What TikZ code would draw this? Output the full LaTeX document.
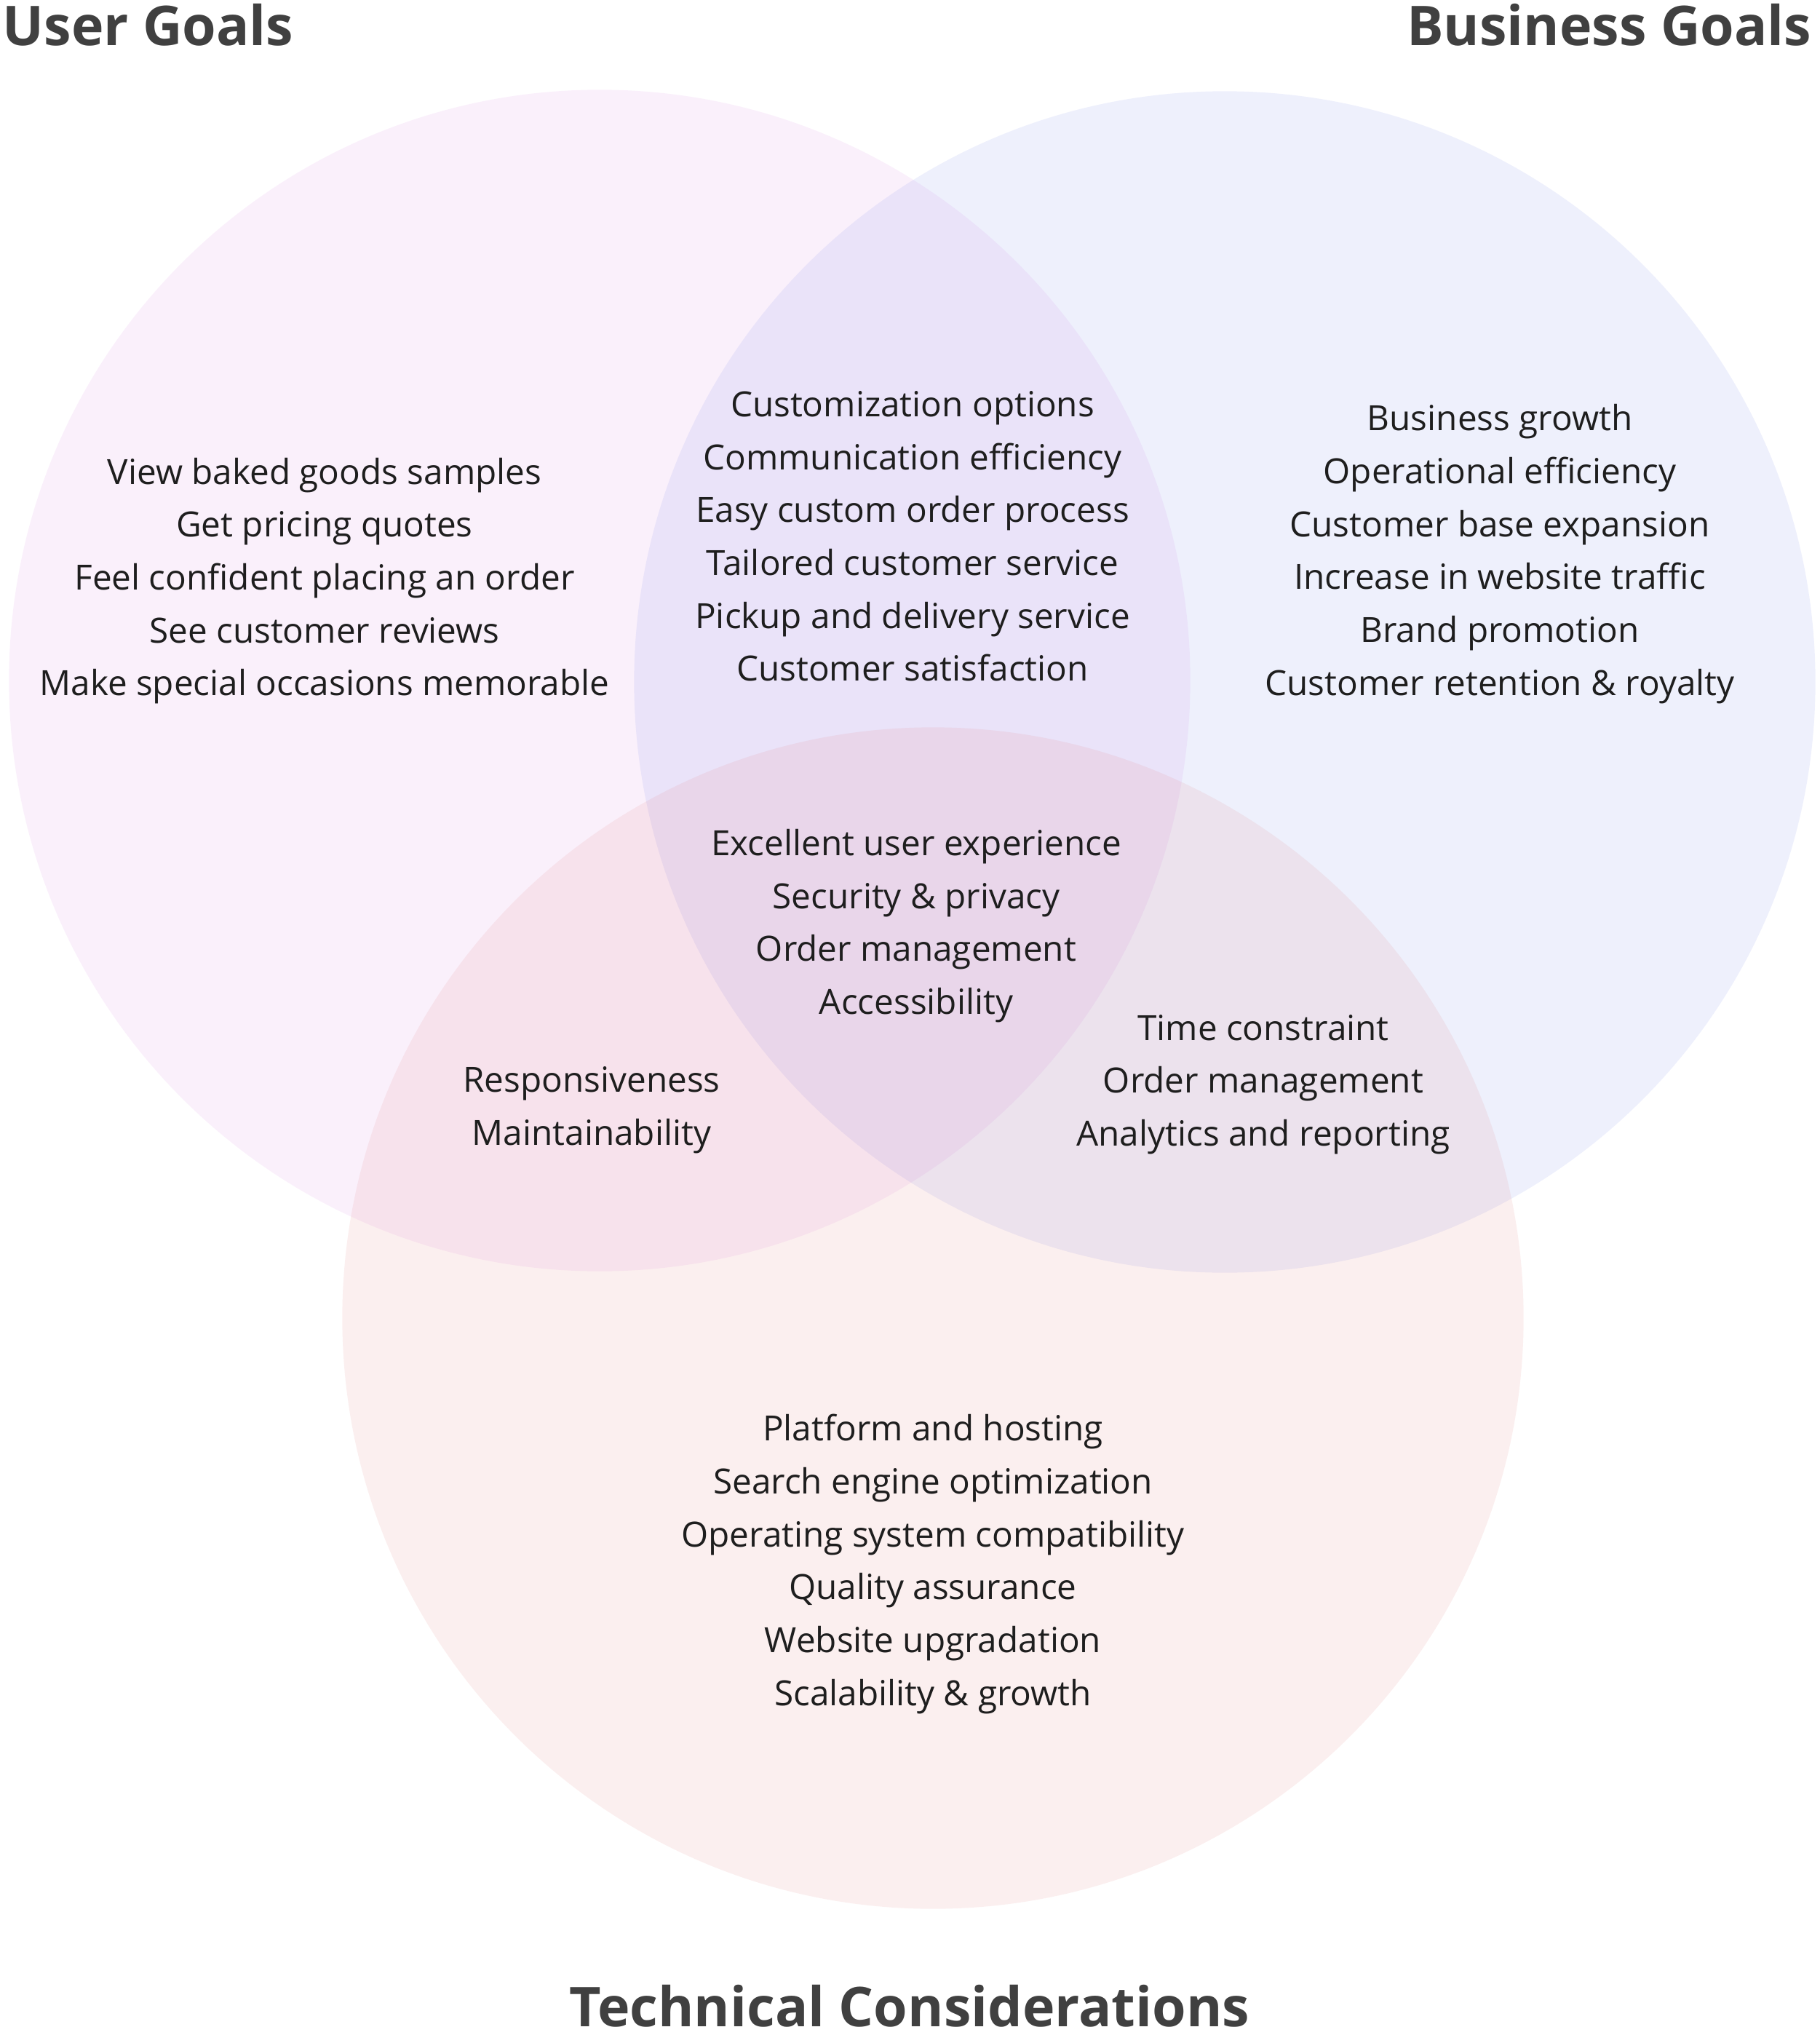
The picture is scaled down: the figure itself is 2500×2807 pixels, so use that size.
\documentclass[tikz,border=0pt]{standalone}
\usepackage{fontspec}
\setmainfont{Open Sans}
\definecolor{userc}{RGB}{215,115,225}
\definecolor{busc}{RGB}{95,115,235}
\definecolor{techc}{RGB}{225,105,105}
\definecolor{titlec}{HTML}{404040}
\definecolor{bodyc}{HTML}{1E1E1E}
\begin{document}
\begin{tikzpicture}[x=0.3pt,y=-0.3pt,
  venn/.style={fill opacity=0.1, draw=none},
  body/.style={align=center, inner sep=0pt, text=bodyc, font=\fontsize{14.3}{21.8}\selectfont},
  title/.style={inner sep=0pt, text=titlec, font=\fontsize{22.6}{28}\selectfont\bfseries}]
\useasboundingbox (0,0) rectangle (2500,2807);
\fill[white] (0,0) rectangle (2500,2807);
\fill[venn, userc] (824,935) circle[radius=243.5pt];
\fill[venn, busc] (1683,937) circle[radius=243.5pt];
\fill[venn, techc] (1282,1811) circle[radius=243.5pt];

\node[title, anchor=base west] (tUser) at (3,63) {User Goals};
\node[title, anchor=base east] (tBus) at (2490,63) {Business Goals};
\node[title, anchor=base] (tTech) at (1250,2784) {Technical Considerations};

\node[body] (gUser) at (446,798) {View baked goods samples\\Get pricing quotes\\Feel confident placing an order\\See customer reviews\\Make special occasions memorable};
\node[body] (gUB) at (1254,737) {Customization options\\Communication efficiency\\Easy custom order process\\Tailored customer service\\Pickup and delivery service\\Customer satisfaction};
\node[body] (gBus) at (2061,761) {Business growth\\Operational efficiency\\Customer base expansion\\Increase in website traffic\\Brand promotion\\Customer retention \& royalty};
\node[body] (gAll) at (1259,1272) {Excellent user experience\\Security \& privacy\\Order management\\Accessibility};
\node[body] (gUT) at (813,1525) {Responsiveness\\Maintainability};
\node[body] (gBT) at (1736,1490) {Time constraint\\Order management\\Analytics and reporting};
\node[body] (gTech) at (1282,2149) {Platform and hosting\\Search engine optimization\\Operating system compatibility\\Quality assurance\\Website upgradation\\Scalability \& growth};
\end{tikzpicture}
\end{document}
